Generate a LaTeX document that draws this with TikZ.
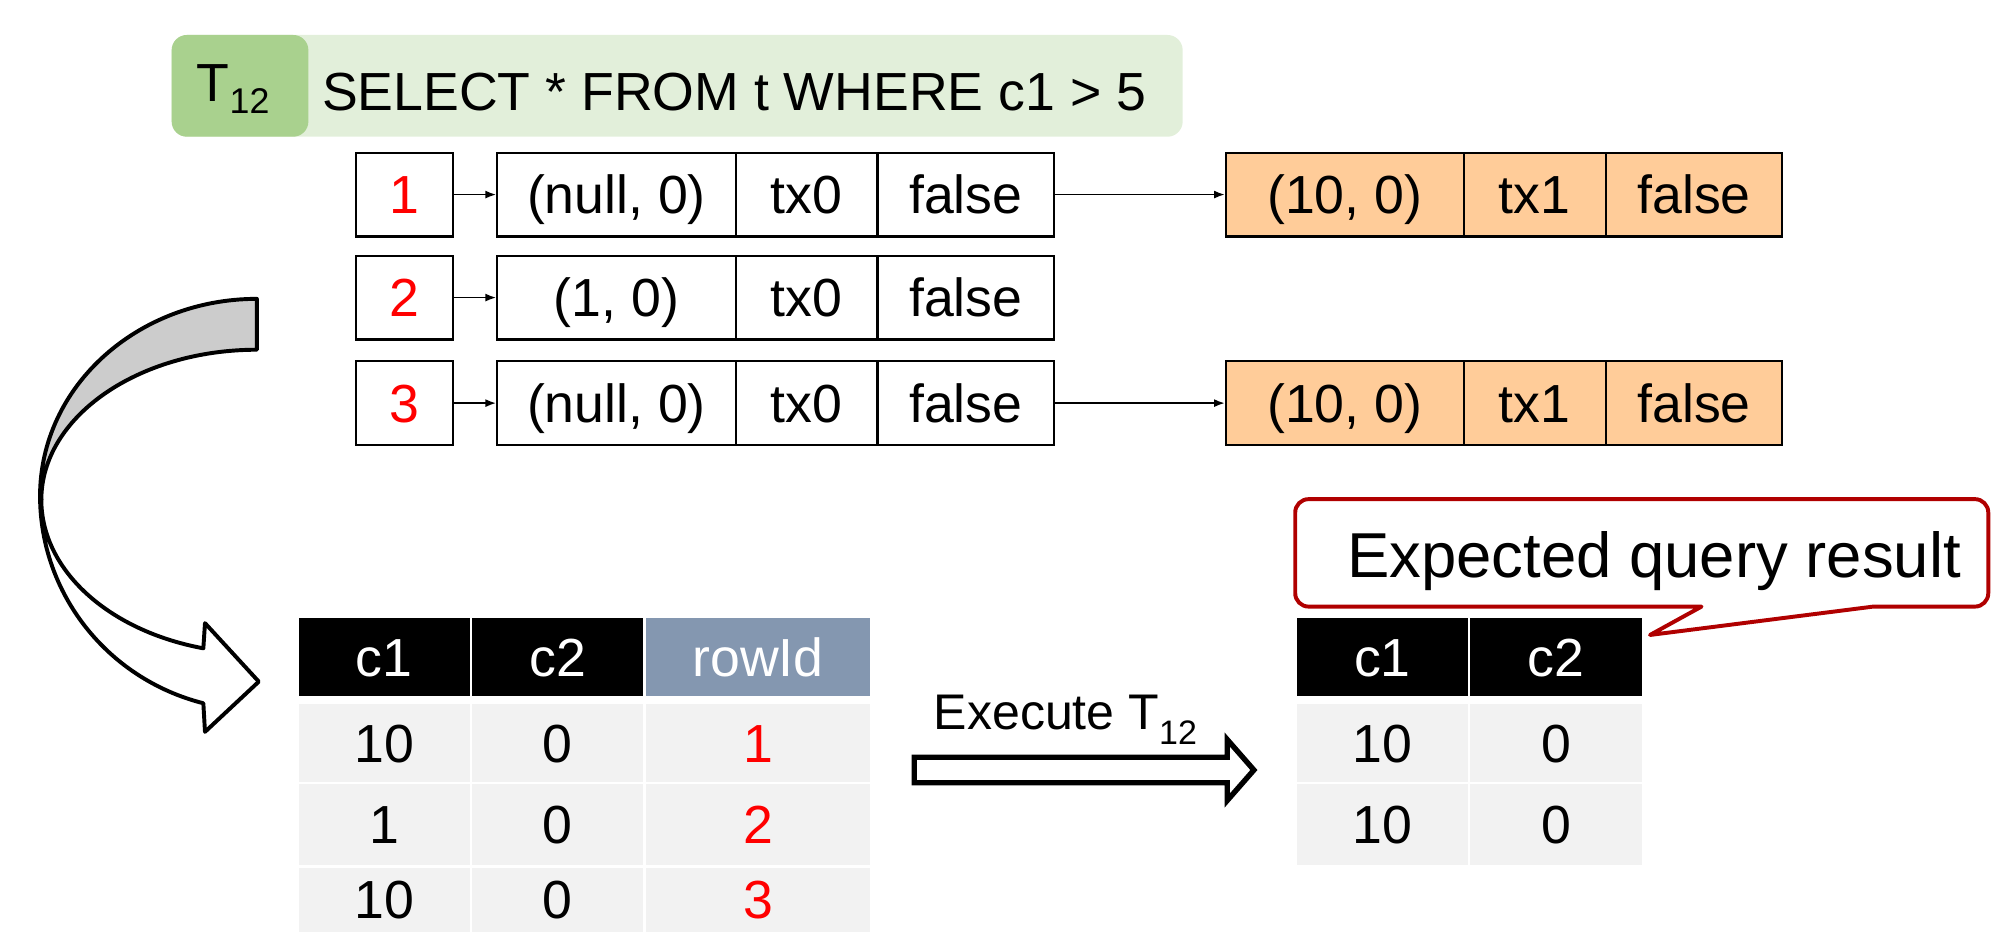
\documentclass[tikz,border=0pt]{standalone}
\usepackage{fontspec}
\setmainfont{Liberation Sans}
\usetikzlibrary{arrows.meta}

\newlength\px
\setlength\px{0.7113pt}

\definecolor{qlight}{HTML}{E2EFDA}
\definecolor{qdark}{HTML}{A9D18E}
\definecolor{verfill}{HTML}{FFCC99}
\definecolor{idred}{HTML}{FF0000}
\definecolor{hdrslate}{HTML}{8497B0}
\definecolor{bodygray}{HTML}{F2F2F2}
\definecolor{callred}{HTML}{B00000}
\definecolor{bandgray}{HTML}{CCCCCC}

% a node filling the box (x1,y1)-(x2,y2)
\newcommand\cellnode[7]{%
  \node[#6, minimum width={(#4-#2)*\px}, minimum height={(#5-#3)*\px}]
    (#1) at ({(#2+#4)/2},{(#3+#5)/2}) {#7};}

\tikzset{
  big/.style={font=\fontsize{30}{36}\selectfont, text height=21.5pt, text depth=0pt, inner sep=0pt},
  rec/.style={big, draw=black, line width=1.2pt},
  ver/.style={rec, fill=verfill},
  idbox/.style={rec, text=idred},
  ptr/.style={-{Latex[length=6pt,width=4.5pt]}, line width=1pt},
  hdr/.style={big, fill=black, text=white},
  hdrid/.style={big, fill=hdrslate, text=white},
  body/.style={big, fill=bodygray, text=black},
  bodyid/.style={body, text=idred},
  celltext/.style={big, anchor=base},
  outline/.style={draw=black, line width=2.2pt, line join=round},
  blockarrow/.style={draw=black, fill=white, line width=3pt, line join=miter},
  callline/.style={draw=callred, fill=white, line width=2.2pt, line join=round},
}

\begin{document}
\begin{tikzpicture}[x=0.7113pt, y=-0.7113pt]
\useasboundingbox (0,0) rectangle (1568,733);

% transaction bar
\cellnode{qbar}{135}{27.5}{930}{107.5}{fill=qlight, rounded corners=8.5pt, inner sep=0pt}{}
\cellnode{tbox}{135}{27.5}{242.5}{107.5}{fill=qdark, rounded corners=8.5pt, inner sep=0pt}{}
\node[anchor=base west, inner sep=0pt, font=\fontsize{30}{36}\selectfont] (tlabel) at (154.6,80)
  {T\raisebox{-6.5pt}{\fontsize{20}{24}\selectfont 12}};
\node[anchor=base west, inner sep=0pt, font=\fontsize{30}{36}\selectfont] (qtext) at (253,86.5)
  {SELECT * FROM t WHERE c1 > 5};

% version chains
\cellnode{id1}{280}{120}{356}{186}{idbox}{1}
\cellnode{r1a}{391}{120}{578.6}{186}{rec}{(null, 0)}
\cellnode{r1b}{578.6}{120}{690}{186}{rec}{tx0}
\cellnode{r1c}{690}{120}{829}{186}{rec}{false}
\cellnode{v1a}{964}{120}{1151}{186}{ver}{(10, 0)}
\cellnode{v1b}{1151}{120}{1262.6}{186}{ver}{tx1}
\cellnode{v1c}{1262.6}{120}{1401.6}{186}{ver}{false}

\cellnode{id2}{280}{201}{356}{267}{idbox}{2}
\cellnode{r2a}{391}{201}{578.6}{267}{rec}{(1, 0)}
\cellnode{r2b}{578.6}{201}{690}{267}{rec}{tx0}
\cellnode{r2c}{690}{201}{829}{267}{rec}{false}

\cellnode{id3}{280}{284}{356}{350}{idbox}{3}
\cellnode{r3a}{391}{284}{578.6}{350}{rec}{(null, 0)}
\cellnode{r3b}{578.6}{284}{690}{350}{rec}{tx0}
\cellnode{r3c}{690}{284}{829}{350}{rec}{false}
\cellnode{v3a}{964}{284}{1151}{350}{ver}{(10, 0)}
\cellnode{v3b}{1151}{284}{1262.6}{350}{ver}{tx1}
\cellnode{v3c}{1262.6}{284}{1401.6}{350}{ver}{false}

\draw[ptr] (id1) -- (r1a);
\draw[ptr] (id2) -- (r2a);
\draw[ptr] (id3) -- (r3a);
\draw[ptr] (r1c) -- (v1a);
\draw[ptr] (r3c) -- (v3a);

% curved block arrow: lower (front) part
\path[outline, fill=white]
  (31.5,390) .. controls (31.5,466.6) and (84.2,533.8) .. (159.9,553)
  -- (161.2,575.5) -- (203.5,536) -- (161.2,490) -- (159.9,509.8)
  .. controls (84.8,495.9) and (32.5,447.9) .. (32.5,393) -- cycle;
% curved block arrow: upper (back) part
\path[outline, fill=bandgray]
  (202,235) .. controls (108.3,235) and (31.5,303.8) .. (31.5,390)
  -- (32.5,393) .. controls (32.5,327.8) and (108.8,275) .. (202,275) -- cycle;

% table scan
\cellnode{lh1}{234.8}{486.2}{369.6}{547.3}{hdr}{c1}
\cellnode{lh2}{371.4}{486.2}{506}{547.3}{hdr}{c2}
\cellnode{lh3}{507.8}{486.2}{684.4}{547.3}{hdrid}{rowId}
\cellnode{l11}{234.8}{553.6}{369.6}{614.7}{body}{10}
\cellnode{l12}{371.4}{553.6}{506}{614.7}{body}{0}
\cellnode{l13}{507.8}{553.6}{684.4}{614.7}{bodyid}{1}
\cellnode{l21}{234.8}{616.7}{369.6}{680.2}{body}{1}
\cellnode{l22}{371.4}{616.7}{506}{680.2}{body}{0}
\cellnode{l23}{507.8}{616.7}{684.4}{680.2}{bodyid}{2}
% last row runs into the lower page edge
\cellnode{l31}{234.8}{682.2}{369.6}{733}{body}{}
\cellnode{l32}{371.4}{682.2}{506}{733}{body}{}
\cellnode{l33}{507.8}{682.2}{684.4}{733}{bodyid}{}
\node[celltext] (t31) at (l31.center |- 0,722.5) {10};
\node[celltext] (t32) at (l32.center |- 0,722.5) {0};
\node[celltext, text=idred] (t33) at (l33.center |- 0,722.5) {3};

% execute arrow
\path[blockarrow] (718.9,595.5) -- (965,595.5) -- (965,581.5) -- (986,605.5)
  -- (965,629.5) -- (965,615.5) -- (718.9,615.5) -- cycle;
\node[anchor=base west, inner sep=0pt, font=\fontsize{28}{34}\selectfont] (exectext) at (734,574)
  {Execute T\raisebox{-8pt}{\fontsize{19}{22}\selectfont 12}};

% query result
\cellnode{rh1}{1019.7}{486.2}{1154.5}{547.3}{hdr}{c1}
\cellnode{rh2}{1156.3}{486.2}{1291}{547.3}{hdr}{c2}
\cellnode{r11}{1019.7}{553.6}{1154.5}{614.7}{body}{10}
\cellnode{r12}{1156.3}{553.6}{1291}{614.7}{body}{0}
\cellnode{r21}{1019.7}{616.7}{1154.5}{680.2}{body}{10}
\cellnode{r22}{1156.3}{616.7}{1291}{680.2}{body}{0}

% callout
\path[callline]
  (1338,477) -- (1297.5,499.3) -- (1473,477) -- (1553,477)
  .. controls (1558.8,477) and (1563.5,472.3) .. (1563.5,466.5)
  -- (1563.5,403)
  .. controls (1563.5,397.2) and (1558.8,392.5) .. (1553,392.5)
  -- (1029,392.5)
  .. controls (1023.2,392.5) and (1018.5,397.2) .. (1018.5,403)
  -- (1018.5,466.5)
  .. controls (1018.5,472.3) and (1023.2,477) .. (1029,477) -- cycle;
\node[anchor=base west, inner sep=0pt, font=\fontsize{35.5}{42}\selectfont] (calltext) at (1059,454)
  {Expected query result};
\end{tikzpicture}
\end{document}
